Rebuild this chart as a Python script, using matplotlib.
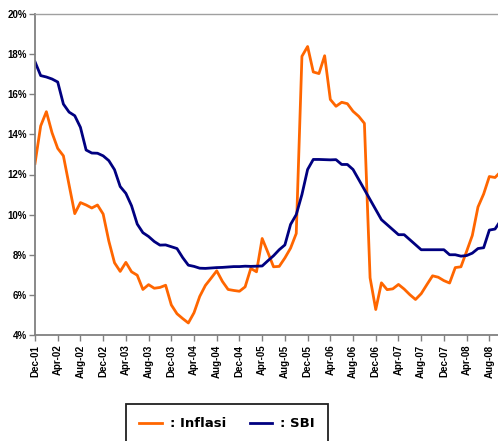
import numpy as np
import matplotlib
matplotlib.use('Agg')
import matplotlib.pyplot as plt
from matplotlib.ticker import FuncFormatter

# monthly series, Dec-01 onwards (values in %)
inflasi = [12.55, 14.42, 15.13, 14.08, 13.30, 12.93, 11.48, 10.05, 10.60, 10.48, 10.33, 10.48,
           10.03, 8.68, 7.60, 7.17, 7.62, 7.15, 6.98, 6.27, 6.51, 6.33, 6.37, 6.48,
           5.50, 5.06, 4.82, 4.60, 5.11, 5.92, 6.47, 6.83, 7.20, 6.67, 6.27, 6.22,
           6.18, 6.40, 7.32, 7.15, 8.81, 8.12, 7.40, 7.42, 7.84, 8.33, 9.06, 17.89,
           18.38, 17.11, 17.03, 17.92, 15.74, 15.40, 15.60, 15.53, 15.15, 14.90, 14.55, 6.85,
           5.27, 6.60, 6.26, 6.30, 6.52, 6.29, 6.01, 5.77, 6.06, 6.51, 6.95, 6.88,
           6.71, 6.59, 7.36, 7.40, 8.17, 8.96, 10.38, 11.03, 11.90, 11.85, 12.14]

sbi = [17.62, 16.93, 16.86, 16.76, 16.61, 15.51, 15.11, 14.93, 14.35, 13.22, 13.07, 13.06,
       12.93, 12.69, 12.24, 11.40, 11.06, 10.44, 9.53, 9.10, 8.91, 8.66, 8.48, 8.49,
       8.40, 8.31, 7.86, 7.48, 7.42, 7.33, 7.32, 7.34, 7.36, 7.37, 7.39, 7.41,
       7.41, 7.43, 7.42, 7.43, 7.44, 7.70, 7.95, 8.25, 8.49, 9.51, 10.00, 11.00,
       12.25, 12.75, 12.75, 12.74, 12.73, 12.74, 12.50, 12.50, 12.25, 11.75, 11.25, 10.75,
       10.25, 9.75, 9.50, 9.25, 9.00, 9.00, 8.75, 8.50, 8.25, 8.25, 8.25, 8.25,
       8.25, 8.00, 8.00, 7.93, 7.96, 8.08, 8.31, 8.35, 9.23, 9.28, 9.71]

tick_labels = ['Dec-01', 'Apr-02', 'Aug-02', 'Dec-02', 'Apr-03', 'Aug-03', 'Dec-03',
               'Apr-04', 'Aug-04', 'Dec-04', 'Apr-05', 'Aug-05', 'Dec-05', 'Apr-06',
               'Aug-06', 'Dec-06', 'Apr-07', 'Aug-07', 'Dec-07', 'Apr-08', 'Aug-08']

y_ticks = [4, 6, 8, 10, 12, 14, 16, 18, 20]

W, H = 498, 441
fig = plt.figure(figsize=(W / 100, H / 100), dpi=100)

# axes box in pixels: left 35, right ~501 (beyond the image), top 14, bottom 335
ax = fig.add_axes([35 / W, (H - 335) / H, (500.7 - 35) / W, (335 - 14) / H])

x = np.arange(len(inflasi))
ax.plot(x, inflasi, color='#FF6600', lw=2.0, label=': Inflasi', solid_joinstyle='round')
ax.plot(x, sbi, color='#000080', lw=2.0, label=': SBI', solid_joinstyle='round')

ax.set_xlim(0, 82)
ax.set_ylim(4, 20)

ax.set_yticks(y_ticks)
ax.yaxis.set_major_formatter(FuncFormatter(lambda v, p: '%d%%' % v))
ax.set_xticks(np.arange(0, 4 * len(tick_labels), 4))
ax.set_xticklabels(tick_labels, rotation=90)

for lab in ax.get_xticklabels() + ax.get_yticklabels():
    lab.set_fontfamily('Liberation Sans')
    lab.set_fontweight('bold')
    lab.set_fontsize(7)

ax.tick_params(axis='both', direction='out', length=4, width=1, color='#808080', pad=2)
ax.tick_params(axis='x', pad=3)

for side in ['left', 'bottom']:
    ax.spines[side].set_color('#808080')
    ax.spines[side].set_linewidth(1.3)
ax.spines['top'].set_color('#A0A0A0')
ax.spines['top'].set_linewidth(1.0)
ax.spines['right'].set_visible(False)

leg = fig.legend(loc='upper left', bbox_to_anchor=(126 / W, 1 - 404 / H), ncol=2,
                 prop={'family': 'DejaVu Sans', 'weight': 'bold', 'size': 9.5},
                 handlelength=1.7, handletextpad=0.6, columnspacing=1.8,
                 borderpad=1.0, borderaxespad=0, fancybox=False, framealpha=1)
leg.get_frame().set_edgecolor('#202020')
leg.get_frame().set_linewidth(1.3)

fig.savefig('out.png', dpi=100)
